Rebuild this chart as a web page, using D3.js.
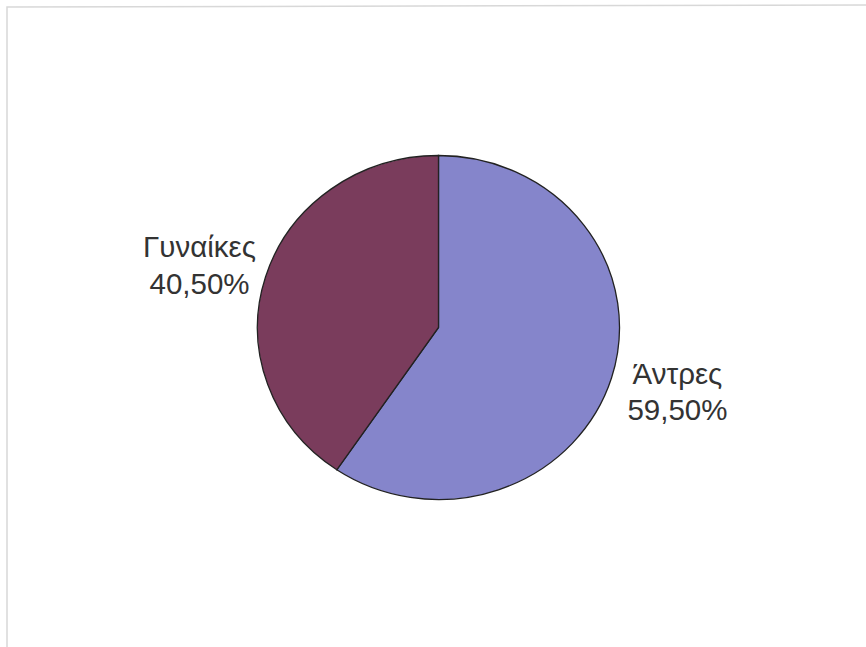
<!DOCTYPE html>
<html>
<head>
<meta charset="utf-8">
<script src="https://cdn.jsdelivr.net/npm/d3@7"></script>
<style>
  body { margin: 0; background: #fff; }
  svg { display: block; }
  .label { font-family: "Liberation Sans", Arial, sans-serif; font-size: 29.5px; fill: #333; }
</style>
</head>
<body>
<svg class="chart" width="866" height="647"></svg>
<script>
"use strict";

// data
var categories = ['Άντρες', 'Γυναίκες'];
var values = [59.5, 40.5];
var valueLabels = ['59,50%', '40,50%'];
var colors = ['#8585cb', '#7a3c5c'];

var width = 866, height = 647;
var cx = 438.5, cy = 327.5;
var rx = 181, ry = 172;

var svg = d3.select('.chart');

// faint frame from the scanned page
svg.append('path')
  .attr('d', 'M7,647 L7,7 L866,5')
  .attr('fill', 'none')
  .attr('stroke', '#d8d8d8')
  .attr('stroke-width', 1.5);

var pie = d3.pie().sort(null).value(function (d) { return d; });
var arcs = pie(values);
var arc = d3.arc().innerRadius(0).outerRadius(rx);

var g = svg.append('g')
  .attr('transform', 'translate(' + cx + ',' + cy + ') scale(1,' + (ry / rx) + ')');

g.selectAll('.slice')
  .data(arcs)
  .enter()
  .append('path')
    .attr('class', 'slice')
    .attr('d', arc)
    .attr('fill', function (d, i) { return colors[i]; })
    .attr('stroke', '#222')
    .attr('stroke-width', 1.3)
    .attr('vector-effect', 'non-scaling-stroke');

// labels sit outside the pie, next to each slice
var labelArc = d3.arc().innerRadius(250).outerRadius(250);
var labelPos = arcs.map(function (d) {
  var c = labelArc.centroid(d);
  return [cx + c[0], cy + c[1] * 0.86];
});

var labels = svg.selectAll('.label')
  .data(arcs)
  .enter()
  .append('text')
    .attr('class', 'label')
    .attr('text-anchor', 'middle')
    .attr('x', function (d, i) { return labelPos[i][0]; })
    .attr('y', function (d, i) { return labelPos[i][1]; });

labels.append('tspan')
  .attr('x', function (d, i) { return labelPos[i][0]; })
  .attr('dy', '-0.24em')
  .text(function (d, i) { return categories[i]; });
labels.append('tspan')
  .attr('x', function (d, i) { return labelPos[i][0]; })
  .attr('dy', '1.24em')
  .text(function (d, i) { return valueLabels[i]; });
</script>
</body>
</html>
